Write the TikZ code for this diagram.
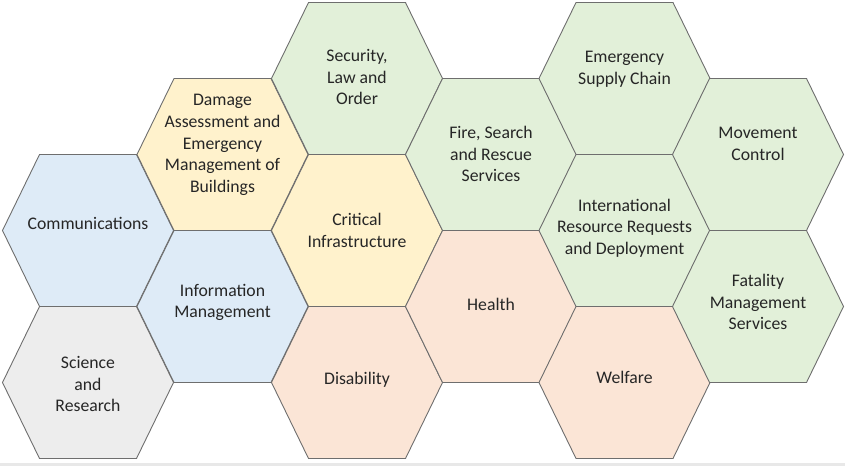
\documentclass[tikz,border=0pt]{standalone}
\usepackage{fontspec}
\setmainfont{Carlito}
\definecolor{hexline}{HTML}{6E6E6E}
\definecolor{hextext}{HTML}{262626}
\definecolor{cblue}{HTML}{DEEBF7}
\definecolor{cyellow}{HTML}{FFF2CC}
\definecolor{cgreen}{HTML}{E2F0D9}
\definecolor{cpink}{HTML}{FBE5D6}
\definecolor{cgrey}{HTML}{EDEDED}
\definecolor{baseband}{HTML}{E8E8E8}
\tikzset{
  hexcell/.style={draw=hexline, line width=0.9pt, line join=miter},
  hexlabel/.style={text=hextext, align=center, inner sep=0pt,
    font=\fontsize{17.7}{21.7}\selectfont}
}
% \hexcell{name}{cx}{cy}{fill}{label y}{text}
\newcommand\hexcell[6]{%
  \path[hexcell, fill=#4] (#2-85.5,#3) -- (#2-48.5,#3-76) -- (#2+48.5,#3-76)
    -- (#2+85.5,#3) -- (#2+48.5,#3+76) -- (#2-48.5,#3+76) -- cycle;
  \node[hexlabel] (#1) at (#2,#5) {#6};
}
\begin{document}
\begin{tikzpicture}[x=1pt, y=-1pt]
  \useasboundingbox (0,0) rectangle (845,466);
  \fill[baseband] (0,462.5) rectangle (845,466);
  % column 0
  \hexcell{comm}{88}{230.5}{cblue}{223}{Communications}
  \hexcell{sci}{88}{382.5}{cgrey}{384}{Science\\and\\Research}
  % column 1
  \hexcell{damage}{222.5}{154.5}{cyellow}{145}{Damage\\Assessment and\\Emergency\\Management of\\Buildings}
  \hexcell{info}{222.5}{306.5}{cblue}{302.5}{Information\\Management}
  % column 2
  \hexcell{security}{357}{78.5}{cgreen}{77}{Security,\\Law and\\Order}
  \hexcell{critical}{357}{230.5}{cyellow}{230.5}{Critical\\Infrastructure}
  \hexcell{disab}{357}{382.5}{cpink}{380}{Disability}
  % column 3
  \hexcell{fire}{491}{154.5}{cgreen}{154}{Fire, Search\\and Rescue\\Services}
  \hexcell{health}{491}{306.5}{cpink}{304}{Health}
  % column 4
  \hexcell{supply}{624.5}{78.5}{cgreen}{69}{Emergency\\Supply Chain}
  \hexcell{intl}{624.5}{230.5}{cgreen}{228}{International\\Resource Requests\\and Deployment}
  \hexcell{welfare}{624.5}{382.5}{cpink}{377}{Welfare}
  % column 5
  \hexcell{movement}{758}{154.5}{cgreen}{144}{Movement\\Control}
  \hexcell{fatality}{758}{306.5}{cgreen}{302}{Fatality\\Management\\Services}
\end{tikzpicture}
\end{document}
